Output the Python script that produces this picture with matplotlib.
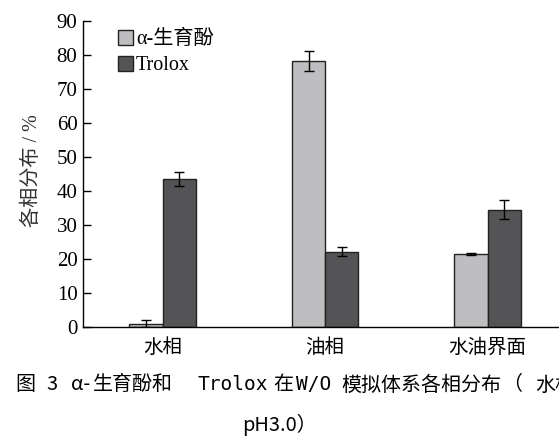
import numpy as np
import matplotlib.pyplot as plt
from matplotlib.patches import Patch

plt.rcParams['font.family'] = ['Liberation Serif', 'Noto Sans CJK SC']

phases = ['水相', '油相', '水油界面']
tocopherol = [1.0, 78.2, 21.6]
tocopherol_err = [1.0, 2.9, 0.3]
trolox = [43.5, 22.2, 34.5]
trolox_err = [2.1, 1.3, 2.8]
yticks = [0, 10, 20, 30, 40, 50, 60, 70, 80, 90]

light = '#bebec0'
dark = '#545456'

fig = plt.figure(figsize=(5.59, 4.37), dpi=100)
ax = fig.add_axes([0.1485, 0.2517, 0.86, 0.7003])

x = np.arange(len(phases))
w = 0.205
ax.bar(x - w / 2, tocopherol, w, color=light, edgecolor='#222222', linewidth=1.0,
       yerr=tocopherol_err, capsize=3.5, error_kw=dict(elinewidth=1.0, capthick=1.0, ecolor='black'))
ax.bar(x + w / 2, trolox, w, color=dark, edgecolor='#222222', linewidth=1.0,
       yerr=trolox_err, capsize=3.5, error_kw=dict(elinewidth=1.0, capthick=1.0, ecolor='black'))

ax.set_xlim(-0.49, 2.468)
ax.set_ylim(0, 90)
ax.set_yticks(yticks)
ax.set_xticks(x)
ax.set_xticklabels(phases, fontsize=14)
ax.tick_params(axis='y', direction='in', length=6, width=1, labelsize=15, pad=4)
ax.tick_params(axis='x', length=0, pad=8)
for s in ['top', 'right']:
    ax.spines[s].set_visible(False)
ax.spines['left'].set_linewidth(1.0)
ax.spines['bottom'].set_linewidth(1.0)

ax.set_ylabel('各相分布 / %', fontsize=14.5, color='#333333')
ax.yaxis.set_label_coords(-0.085, 0.51)

handles = [Patch(facecolor=light, edgecolor='#222222', label='α-生育酚'),
           Patch(facecolor=dark, edgecolor='#222222', label='Trolox')]
ax.legend(handles=handles, loc='upper left', bbox_to_anchor=(0.056, 0.997), frameon=False,
          fontsize=14.5, handlelength=0.75, handleheight=0.75, handletextpad=0.15,
          labelspacing=0.33, borderaxespad=0)

# figure caption below the chart, set piece by piece (half-width Latin in mono)
cap = ['Noto Sans CJK SC', 'DejaVu Sans']
mono = ['DejaVu Sans Mono']
pieces = [(15, '图', cap), (46, '3', cap), (71, 'α-', cap), (93, '生育酚和', cap),
          (197, 'Trolox', mono), (273, '在', cap), (296, 'W/O', mono),
          (341, '模拟体系各相分布', cap), (502, '（', cap), (535, '水相', cap)]
for px, s, fam in pieces:
    size = 14 if fam is mono else 14.4
    fig.text(px / 559, 0.119, s, fontsize=size, family=fam, va='center', ha='left')
fig.text(0.5, 0.027, 'pH3.0）', fontsize=14.4, family=cap, va='center', ha='center')

plt.savefig('out.png', dpi=100)
